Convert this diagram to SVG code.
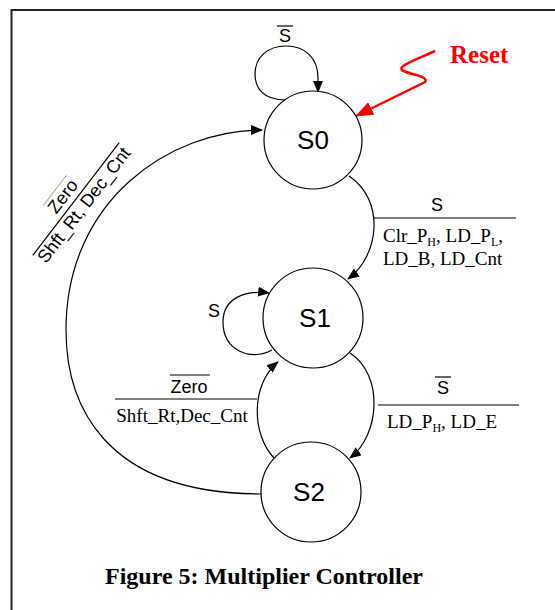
<svg xmlns="http://www.w3.org/2000/svg" width="555" height="610" viewBox="0 0 555 610">
<style>
.st{fill:#fff;stroke:#000;stroke-width:1.2}
.c{fill:none;stroke:#000;stroke-width:1.2}
.lbl{font-family:"Liberation Sans",Arial,sans-serif;font-size:26px;fill:#000;text-anchor:middle}
.a{font-family:"Liberation Sans",Arial,sans-serif;font-size:18px;fill:#000}
.t{font-family:"Liberation Serif","Times New Roman",serif;font-size:19px;fill:#000}
.sub{font-size:12px}
.rule{stroke:#000;stroke-width:1.2}
</style>
<defs>
<marker id="ar" markerWidth="12" markerHeight="10" refX="11" refY="5" orient="auto" markerUnits="userSpaceOnUse">
<path d="M0,0 L12,5 L0,10 Z" fill="#000"/>
</marker>
<marker id="arr" markerWidth="18" markerHeight="14" refX="17" refY="7" orient="auto" markerUnits="userSpaceOnUse">
<path d="M0,0 L18,7 L0,14 Z" fill="#f00"/>
</marker>
</defs>
<rect width="555" height="610" fill="#fff"/>
<path d="M11.5,610 L11.5,10 L555,10" fill="none" stroke="#222" stroke-width="2"/>

<g id="connectors">
<path class="c" d="M286,100 C262,100 255,87 255,74 C255,57 268,46 286,46 C304,46 318,57 318,78 L318,92" marker-end="url(#ar)"/>
<path class="c" d="M349,176 C385,200 380,255 348,279" marker-end="url(#ar)"/>
<path class="c" d="M272,350 C250,362 223,350 223,322 C223,298 245,290 269,293" marker-end="url(#ar)"/>
<path class="c" d="M350,353 C384,375 380,435 350,458" marker-end="url(#ar)"/>
<path class="c" d="M274,458 C252,435 250,385 278,362" marker-end="url(#ar)"/>
<path class="c" d="M262,494 C100,494 66,400 66,330 C66,200 170,130 262,130" marker-end="url(#ar)"/>
<path d="M435,51 C415,60 398,66 402,70 C406,74 430,76 425,82 L356,116" fill="none" stroke="#f00" stroke-width="2.5" marker-end="url(#arr)"/>
</g>

<g id="labels">
<text class="a" x="285" y="42" text-anchor="middle">S</text>
<line x1="277" y1="26" x2="293" y2="26" class="rule" stroke-width="1"/>
<text x="450" y="63" font-family="Liberation Serif,'Times New Roman',serif" font-size="25" font-weight="bold" fill="#f00">Reset</text>

<text class="a" x="437" y="211" text-anchor="middle">S</text>
<line x1="373" y1="218" x2="516" y2="218" class="rule"/>
<text class="t" x="383" y="242">Clr_P<tspan class="sub" dy="4">H</tspan><tspan dy="-4">, LD_P</tspan><tspan class="sub" dy="4">L</tspan><tspan dy="-4">,</tspan></text>
<text class="t" x="383" y="265">LD_B, LD_Cnt</text>

<text class="a" x="214" y="317" text-anchor="middle">S</text>

<text class="a" x="443" y="394" text-anchor="middle">S</text>
<line x1="435" y1="377" x2="451" y2="377" class="rule" stroke-width="1"/>
<line x1="378" y1="405" x2="519" y2="405" class="rule"/>
<text class="t" x="387" y="428">LD_P<tspan class="sub" dy="4">H</tspan><tspan dy="-4">, LD_E</tspan></text>

<text class="a" x="189" y="393" text-anchor="middle">Zero</text>
<line x1="170" y1="375" x2="210" y2="375" class="rule" stroke-width="1"/>
<line x1="115" y1="399" x2="257" y2="399" class="rule"/>
<text class="t" x="182" y="422" text-anchor="middle">Shft_Rt,Dec_Cnt</text>

<g transform="translate(76,199) rotate(-52.5)">
<line x1="-71" y1="0" x2="71" y2="0" class="rule"/>
<text class="a" x="-6" y="-6" text-anchor="middle" font-size="16">Zero</text>
<line x1="-25" y1="-22" x2="13" y2="-22" stroke="#888" stroke-width="0.8"/>
<text class="a" x="0" y="16" text-anchor="middle" font-size="17">Shft_Rt, Dec_Cnt</text>
</g>

<text x="264" y="584" text-anchor="middle" font-family="Liberation Serif,'Times New Roman',serif" font-size="24" font-weight="bold" fill="#000">Figure 5: Multiplier Controller</text>
</g>

<g id="S0"><circle class="st" cx="313" cy="140" r="49"/><text class="lbl" x="313" y="149">S0</text></g>
<g id="S1"><circle class="st" cx="313" cy="318" r="50"/><text class="lbl" x="315" y="327">S1</text></g>
<g id="S2"><circle class="st" cx="311" cy="492" r="50"/><text class="lbl" x="309" y="501">S2</text></g>
</svg>
